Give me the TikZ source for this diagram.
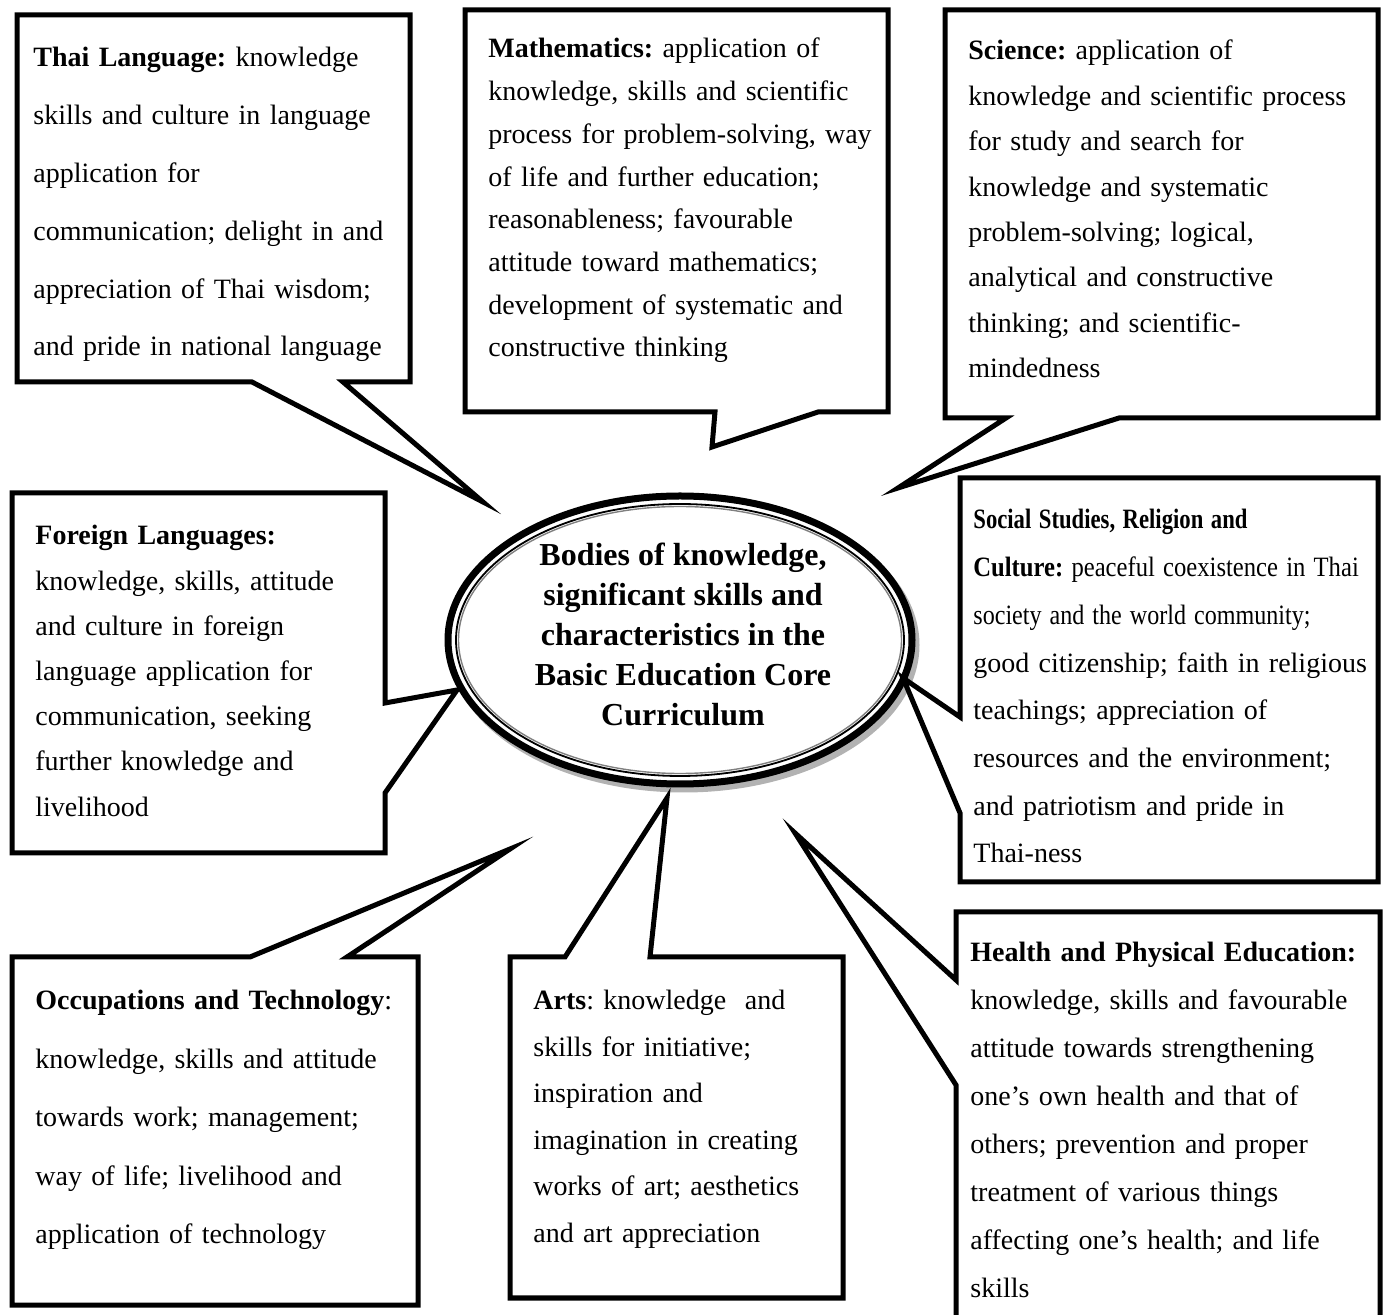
\documentclass[tikz,border=0pt]{standalone}
\usepackage{fontspec}
\setmainfont{Liberation Serif}
\usepackage{graphicx}
\frenchspacing

\begin{document}
\begin{tikzpicture}[x=0.5pt,y=-0.5pt]
\tikzstyle{callout}=[draw, line width=2.5pt, fill=white, miter limit=12]
\tikzstyle{body}=[inner sep=0pt, anchor=base west, text width=220pt, align=left]
\useasboundingbox (0,0) rectangle (1389,1315);

\coordinate (c) at (680,640);
\draw[gray!60, line width=3.5pt] ([shift={(4,5)}]c) ellipse [x radius=232, y radius=144];
\draw[line width=3.5pt, fill=white] (c) ellipse [x radius=232, y radius=144];
\draw[line width=0.9pt] (c) ellipse [x radius=224, y radius=136];
\draw[gray, line width=0.7pt] (c) ellipse [x radius=221.5, y radius=133.5];
\node[inner sep=0pt, align=center, font=\fontsize{16}{20}\selectfont\bfseries] (core) at (683,634)
  {Bodies of knowledge,\\significant skills and\\characteristics in the\\Basic Education Core\\Curriculum};

\coordinate (thaiTip) at (483,502);
\coordinate (mathTip) at (712,447);
\coordinate (sciTip) at (898,488);
\coordinate (socTip) at (903,678);
\coordinate (forTip) at (457,690);
\coordinate (occTip) at (510,849);
\coordinate (artTip) at (667,798);
\coordinate (heaTip) at (795,833);

\draw[callout] (17,15) -- (410,15) -- (410,382) -- (343,382) -- (thaiTip) -- (252,382) -- (17,382) -- cycle;
\draw[callout] (465,10) -- (888,10) -- (888,412) -- (818,412) -- (mathTip) -- (715,412) -- (465,412) -- cycle;
\draw[callout] (945,10) -- (1378,10) -- (1378,418) -- (1119,418) -- (sciTip) -- (1006,418) -- (945,418) -- cycle;
\draw[callout] (960,478) -- (1378,478) -- (1378,882) -- (960,882) -- (960,813) -- (socTip) -- (960,717) -- cycle;
\draw[callout] (12,493) -- (385,493) -- (385,703) -- (forTip) -- (385,793) -- (385,853) -- (12,853) -- cycle;
\draw[callout] (12,957) -- (250,957) -- (occTip) -- (347,957) -- (418,957) -- (418,1305) -- (12,1305) -- cycle;
\draw[callout] (510,957) -- (565,957) -- (artTip) -- (650,957) -- (843,957) -- (843,1298) -- (510,1298) -- cycle;
\draw[callout] (956,912) -- (1380,912) -- (1380,1322) -- (956,1322) -- (956,1085) -- (heaTip) -- (956,980) -- cycle;

\node[body, font=\fontsize{14}{28.9}\selectfont] (thai) at (33,67)
  {\textbf{Thai Language:} knowledge\\skills and culture in language\\application for\\communication; delight in and\\appreciation of Thai wisdom;\\and pride in national language};
\node[body, font=\fontsize{14}{21.35}\selectfont] (math) at (488,58)
  {\textbf{Mathematics:} application of\\knowledge, skills and scientific\\process for problem-solving, way\\of life and further education;\\reasonableness; favourable\\attitude toward mathematics;\\development of systematic and\\constructive thinking};
\node[body, font=\fontsize{14}{22.7}\selectfont] (sci) at (968,60)
  {\textbf{Science:} application of\\knowledge and scientific process\\for study and search for\\knowledge and systematic\\problem-solving; logical,\\analytical and constructive\\thinking; and scientific-\\mindedness};
\node[body, font=\fontsize{14}{23.85}\selectfont] (soc) at (973,529)
  {\scalebox{0.81}[1]{\textbf{Social Studies, Religion and}}\\
   \scalebox{0.88}[1]{\textbf{Culture:} peaceful coexistence in Thai}\\
   \scalebox{0.86}[1]{society and the world community;}\\
   good citizenship; faith in religious\\teachings; appreciation of\\resources and the environment;\\and patriotism and pride in\\Thai-ness};
\node[body, font=\fontsize{14}{22.6}\selectfont] (for) at (35,545)
  {\textbf{Foreign Languages:}\\knowledge, skills, attitude\\and culture in foreign\\language application for\\communication, seeking\\further knowledge and\\livelihood};
\node[body, font=\fontsize{14}{29.25}\selectfont] (occ) at (35,1010)
  {\textbf{Occupations and Technology}:\\knowledge, skills and attitude\\towards work; management;\\way of life; livelihood and\\application of technology};
\node[body, font=\fontsize{14}{23.25}\selectfont] (art) at (533,1010)
  {\textbf{Arts}: knowledge~ and\\skills for initiative;\\inspiration and\\imagination in creating\\works of art; aesthetics\\and art appreciation};
\node[body, font=\fontsize{14}{24}\selectfont] (hea) at (970,962)
  {\textbf{Health and Physical Education:}\\knowledge, skills and favourable\\attitude towards strengthening\\one’s own health and that of\\others; prevention and proper\\treatment of various things\\affecting one’s health; and life\\skills};
\end{tikzpicture}
\end{document}
